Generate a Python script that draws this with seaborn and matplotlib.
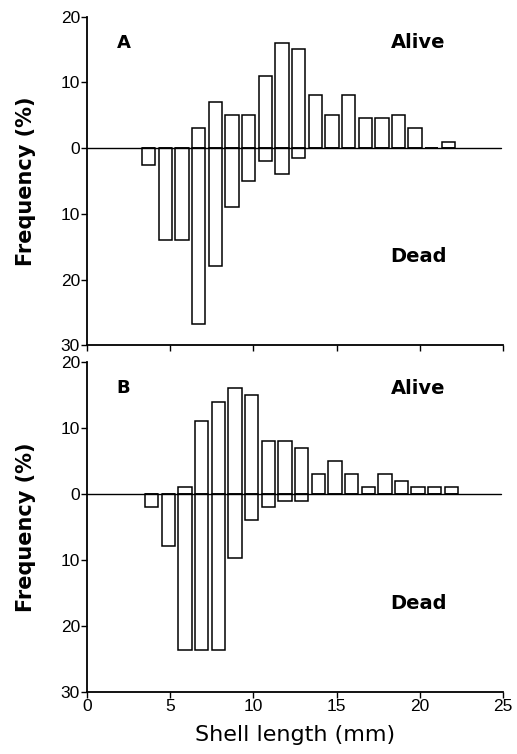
import numpy as np
import pandas as pd
import matplotlib
matplotlib.use("Agg")
import matplotlib.pyplot as plt
import seaborn as sns

# shell length classes (mm, lower bound of 1 mm class)
length_class = [3, 4, 5, 6, 7, 8, 9, 10, 11, 12, 13, 14, 15, 16, 17, 18, 19, 20, 21]

# panel A, frequency (%)
alive_a = [0, 0, 0, 3, 7, 5, 5, 11, 16, 15, 8, 5, 8, 4.5, 4.5, 5, 3, 0, 1]
dead_a = [2.5, 14, 14, 26.7, 18, 9, 5, 2, 4, 1.5, 0, 0, 0, 0, 0, 0, 0, 0, 0]

# panel B, frequency (%)
alive_b = [0, 0, 1, 11, 14, 16, 15, 8, 8, 7, 3, 5, 3, 1, 3, 2, 1, 1, 1]
dead_b = [2, 7.8, 23.6, 23.6, 23.6, 9.7, 4, 2, 1, 1, 0, 0, 0, 0, 0, 0, 0, 0, 0]

yticks = [-30, -20, -10, 0, 10, 20]
ytick_labels = ["30", "20", "10", "0", "10", "20"]
xticks = [0, 5, 10, 15, 20, 25]

sns.set_style("ticks")
plt.rcParams['font.family'] = ['Liberation Sans', 'DejaVu Sans']
plt.rcParams.update({"text.color": "black", "axes.labelcolor": "black",
                     "xtick.color": "black", "ytick.color": "black"})
wide = ['DejaVu Sans']

fig = plt.figure(figsize=(5.17, 7.54), dpi=100)
ax_a = fig.add_axes([0.168, 0.542, 0.805, 0.436])
ax_b = fig.add_axes([0.168, 0.082, 0.805, 0.438])


def draw_panel(ax, alive, dead, offset, letter, show_xlabels):
    df = pd.DataFrame({"length": np.array(length_class) + offset,
                       "alive": alive,
                       "dead": -np.array(dead)})
    for col in ["alive", "dead"]:
        sns.barplot(data=df, x="length", y=col, native_scale=True, ax=ax,
                    color="white", saturation=1, edgecolor="black",
                    linewidth=1.1, width=0.8, errorbar=None)
    ax.axhline(0, xmin=0, xmax=0.995, color="black", lw=1.0, zorder=3)

    ax.set_xlim(0, 25)
    ax.set_ylim(-30, 20)
    ax.set_yticks(yticks)
    ax.set_yticklabels(ytick_labels)
    ax.set_xticks(xticks)
    if show_xlabels:
        ax.set_xticklabels([str(t) for t in xticks])
    else:
        ax.set_xticklabels([])
    ax.tick_params(direction="out", length=4, width=1, labelsize=12.5, pad=1,
                   colors="black")
    ax.set_xlabel("")
    ax.set_ylabel("Frequency (%)", fontsize=15, fontweight="bold",
                  family=wide, labelpad=18)
    sns.despine(ax=ax)
    for s in ["left", "bottom"]:
        ax.spines[s].set_linewidth(1.3)
        ax.spines[s].set_color("black")

    ax.text(2.2, 16, letter, fontsize=13, fontweight="bold", family=wide,
            ha="center", va="center")
    ax.text(19.9, 16, "Alive", fontsize=14, fontweight="bold", family=wide,
            ha="center", va="center")
    ax.text(19.9, -16.5, "Dead", fontsize=14, fontweight="bold", family=wide,
            ha="center", va="center")


draw_panel(ax_a, alive_a, dead_a, 0.72, "A", False)
draw_panel(ax_b, alive_b, dead_b, 0.9, "B", True)
ax_b.set_xlabel("Shell length (mm)", fontsize=16, family=wide, labelpad=8)

fig.savefig("out.png", dpi=100)
